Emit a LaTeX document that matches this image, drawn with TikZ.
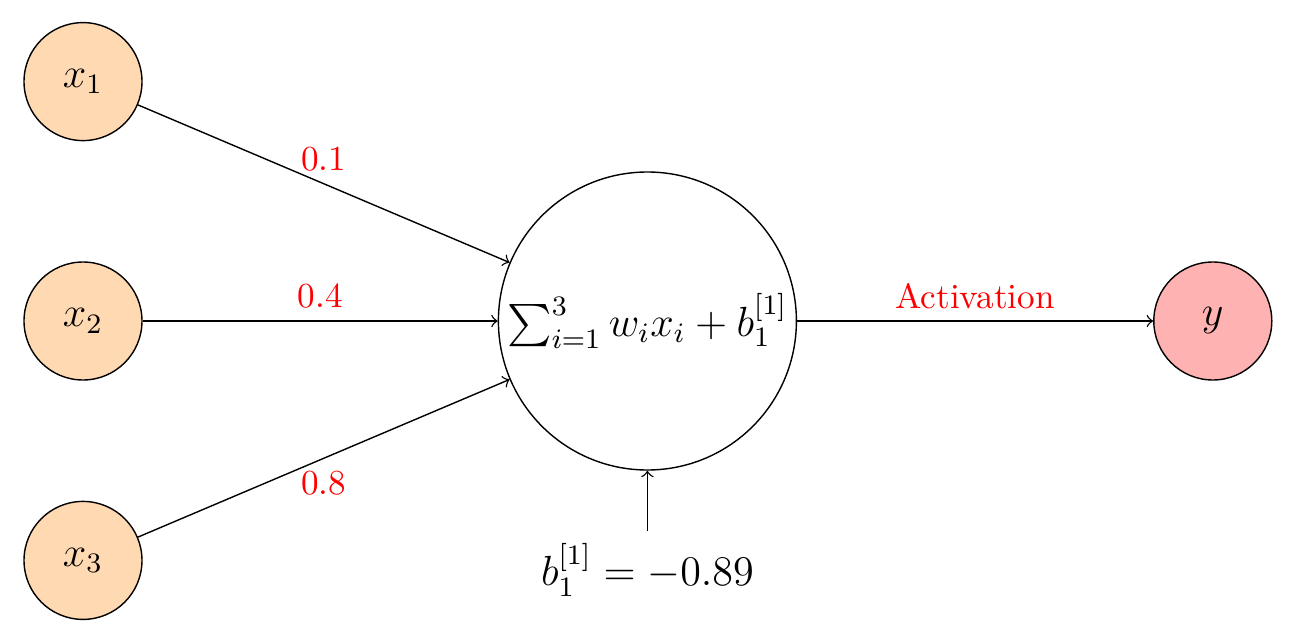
\documentclass[tikz,border=0pt]{standalone}
\usepackage{tikz}
\usetikzlibrary{positioning}
\usepackage{amsmath}
\usepackage{amssymb}

\begin{document}
\begin{tikzpicture}
		\useasboundingbox (-0.83,-3.22) rectangle (12.12,3.21);
		\node[draw,circle,fill=orange!30,minimum size=1.18cm,font=\large] (X2) {$x_2$};
		\node[draw,circle,fill=orange!30,minimum size=1.18cm,font=\large,above=1.2cm of X2] (X1) {$x_1$};
		\node[draw,circle,fill=orange!30,minimum size=1.18cm,font=\large,below=1.2cm of X2] (X3) {$x_3$};
		\node[draw,circle,minimum size=2.98cm,inner sep=0pt,font=\large,right=3.55cm of X2] (N) {$\sum_{i=1}^{3} w_i x_i + b_1^{[1]}$};
		\node[draw,circle,fill=red!30,minimum size=1.18cm,font=\large,right=3.56cm of N] (Y) {$y$};
		\node[font=\large,below=0.6cm of N] (B) {$b_1^{[1]} = -0.89$};
		\draw[->] (X1) -- (N) node[midway,above,red]{0.1};
		\draw[->] (X2) -- (N) node[midway,above,red]{0.4};
		\draw[->] (X3) -- (N) node[midway,below,red]{0.8};
		\draw[->] (N) -- (Y) node[midway,above,red]{Activation};
		\draw[->] (B) -- (N);
	\end{tikzpicture}
\end{document}
